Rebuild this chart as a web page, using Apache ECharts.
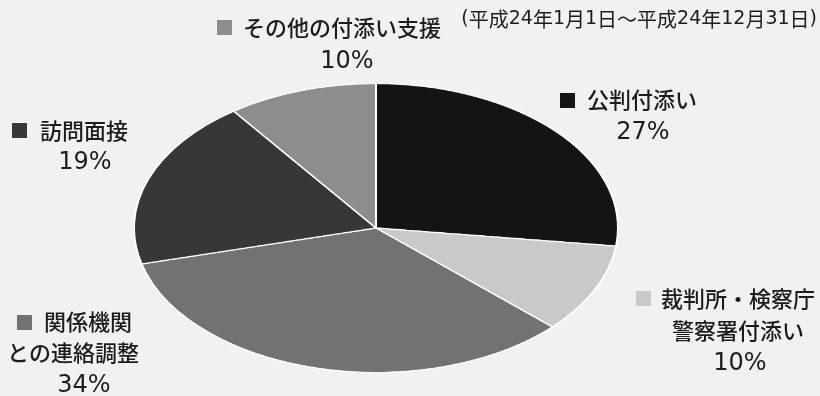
<!DOCTYPE html>
<html>
<head>
<meta charset="utf-8">
<script src="https://cdn.jsdelivr.net/npm/echarts@6/dist/echarts.min.js"></script>
<style>
  html, body { margin: 0; padding: 0; background: #f1f1f1; }
  #wrap { position: relative; width: 820px; height: 396px; overflow: hidden; background: #f1f1f1; }
  #pie { position: absolute; left: 133.5px; top: -14.5px; width: 484px; height: 484px;
         transform: scaleY(0.597); transform-origin: 50% 50%; }
  #labels { position: absolute; left: 0; top: 0; width: 820px; height: 396px; }
</style>
</head>
<body>
<div id="wrap">
  <div id="pie"></div>
  <div id="labels"></div>
</div>
<script>
// ---- data ----
const categories = ['公判付添い', '裁判所・検察庁\n警察署付添い', '関係機関\nとの連絡調整', '訪問面接', 'その他の付添い支援'];
const values = [27, 10, 34, 19, 10];
const colors = ['#141414', '#c9c9c9', '#727272', '#373737', '#8d8d8d'];
const periodText = '(平成24年1月1日～平成24年12月31日)';

// ---- pie (elliptical via vertical scale of container) ----
const pie = echarts.init(document.getElementById('pie'), null, { renderer: 'canvas' });
pie.setOption({
  animation: false,
  series: [{
    type: 'pie',
    center: ['50%', '50%'],
    radius: [0, '100%'],
    startAngle: 90,
    clockwise: true,
    label: { show: false },
    labelLine: { show: false },
    itemStyle: { borderColor: '#ffffff', borderWidth: 2 },
    emphasis: { disabled: true },
    data: categories.map((c, i) => ({ name: c, value: values[i], itemStyle: { color: colors[i] } }))
  }]
});

// ---- labels layout (positions only) ----
const layout = [
  { sq: [560, 93], first: [587, 100], rest: [[643, 133]] },
  { sq: [636, 291], first: [661, 299], rest: [[738, 331], [740, 364]] },
  { sq: [17, 315], first: [44, 322], rest: [[73, 353], [84, 386]] },
  { sq: [12, 123], first: [40, 131], rest: [[85, 163]] },
  { sq: [217, 20], first: [243, 28], rest: [[347, 62]] }
];
const FONT = '"Noto Sans CJK JP", "Noto Sans", sans-serif';
const NUMFONT = '"DejaVu Sans", sans-serif';
const txtColor = '#1c1c1c';
const elements = [];
categories.forEach((c, i) => {
  const L = layout[i];
  const lines = c.split('\n').concat([values[i] + '%']);
  elements.push({ type: 'rect', shape: { x: L.sq[0], y: L.sq[1], width: 15, height: 15 },
                  style: { fill: colors[i] } });
  elements.push({ type: 'text', x: L.first[0], y: L.first[1],
                  style: { text: lines[0], font: '500 22px ' + FONT, fill: txtColor,
                           textAlign: 'left', textVerticalAlign: 'middle' } });
  lines.slice(1).forEach((ln, k) => {
    const p = L.rest[k];
    const isPct = k === lines.length - 2;
    elements.push({ type: 'text', x: p[0], y: p[1],
                    style: { text: ln, font: isPct ? ('24px ' + NUMFONT) : ('500 22px ' + FONT),
                             fill: txtColor, textAlign: 'center', textVerticalAlign: 'middle' } });
  });
});
// period note: digits/brackets in a wide sans, kanji in CJK font
const tokens = periodText.match(/[\d()]+|[^\d()]+/g);
const richText = tokens.map(t => /[\d()]/.test(t) ? '{d|' + t + '}' : '{c|' + t + '}').join('');
elements.push({ type: 'text', x: 817, y: 19,
                style: { text: richText, fill: txtColor, textAlign: 'right', textVerticalAlign: 'middle',
                         rich: { c: { font: '20px ' + FONT, fill: txtColor },
                                 d: { font: '19px ' + NUMFONT, fill: txtColor } } } });

const lab = echarts.init(document.getElementById('labels'), null, { renderer: 'canvas' });
lab.setOption({ animation: false, graphic: { elements: elements } });
</script>
</body>
</html>
